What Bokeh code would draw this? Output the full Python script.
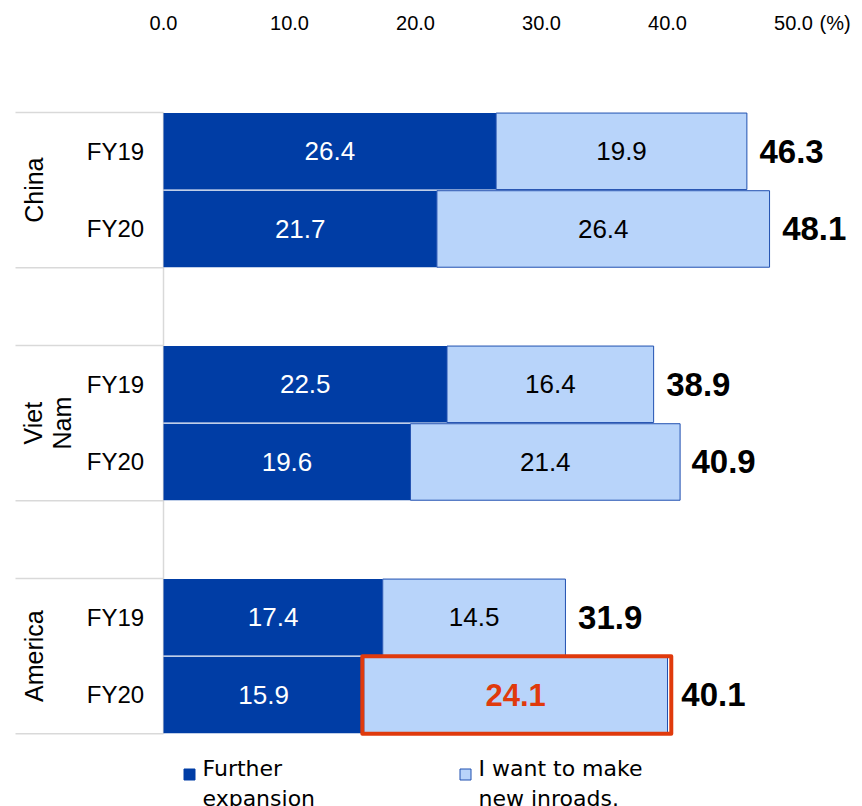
import numpy as np
from bokeh.plotting import figure
from bokeh.models import Range1d, ColumnDataSource
from bokeh.core.properties import value
from bokeh.embed import file_html
from bokeh.resources import INLINE

# ---- data ----
regions = ["China", "Viet\nNam", "America"]
years = ["FY19", "FY20"]
further = [26.4, 21.7, 22.5, 19.6, 17.4, 15.9]
new_inroads = [19.9, 26.4, 16.4, 21.4, 14.5, 24.1]
totals = [46.3, 48.1, 38.9, 40.9, 31.9, 40.1]
tick_values = [0, 10, 20, 30, 40, 50]
tick_labels = ["0.0", "10.0", "20.0", "30.0", "40.0", "50.0"]
legend_labels = ["Further\nexpansion", "I want to make\nnew inroads."]

DARK = "#003DA5"
LIGHT = "#B8D4FA"
RED = "#E03A0C"
GRID = "#D9D9D9"

W, H = 862, 806
X0, SX = 163.0, 12.6          # pixel of x=0, pixels per unit
Y0, SY = 150.8, 77.67         # pixel centre of first slot, pixels per slot

def dx(px):
    return (px - X0) / SX

def dy(py):
    return (py - Y0) / SY

p = figure(width=W, height=H, output_backend="svg", toolbar_location=None,
           x_range=Range1d(dx(0), dx(W)), y_range=Range1d(dy(H), dy(0)),
           min_border=0, outline_line_color=None)
p.axis.visible = False
p.grid.visible = False
p.background_fill_color = "white"

# slots: each region has 2 bars, then an empty slot
slots = []
for g in range(len(regions)):
    for k in range(len(years)):
        slots.append(3 * g + k)
further_a = np.array(further)
new_a = np.array(new_inroads)
n = len(slots)

src = ColumnDataSource(dict(
    y=slots, f=further, right=list(further_a + new_a),
    fmid=list(further_a / 2), nmid=list(further_a + new_a / 2),
    flab=[f"{v:.1f}" for v in further], nlab=[f"{v:.1f}" for v in new_inroads],
    tot=[t + 1.0 for t in totals], tlab=[f"{v:.1f}" for v in totals],
))

# separators and axis line
sep_y = []
for g in range(len(regions)):
    sep_y += [3 * g - 0.5, 3 * g + 1.5]
p.segment(x0=[dx(15)] * len(sep_y), x1=[0] * len(sep_y), y0=sep_y, y1=sep_y,
          line_color=GRID, line_width=1.5)
p.segment(x0=[0], x1=[0], y0=[-0.5], y1=[3 * len(regions) - 1.5],
          line_color=GRID, line_width=1.5)

# bars
p.hbar(y="y", left=0, right="f", height=0.985, source=src,
       fill_color=DARK, line_color=None)
p.hbar(y="y", left="f", right="right", height=0.985, source=src,
       fill_color=LIGHT, line_color="#2050B0", line_width=1)

font = value("Liberation Sans")
# value labels
p.text(x="fmid", y="y", text="flab", source=src, text_color="white",
       text_font=font, text_font_size="26px", text_align="center",
       text_baseline="middle")
normal_idx = list(range(n - 1))
p.text(x=[src.data["nmid"][j] for j in normal_idx], y=[slots[j] for j in normal_idx],
       text=[src.data["nlab"][j] for j in normal_idx], text_color="black",
       text_font=font, text_font_size="26px", text_align="center",
       text_baseline="middle")
# highlighted value
i = n - 1
p.text(x=[src.data["nmid"][i]], y=[slots[i]], text=[src.data["nlab"][i]],
       text_color=RED, text_font=font, text_font_size="31px",
       text_font_style="bold", text_align="center", text_baseline="middle")
# totals
p.text(x="tot", y="y", text="tlab", source=src, text_color="black",
       text_font=font, text_font_size="33px", text_font_style="bold",
       text_align="left", text_baseline="middle")

# highlight box
p.quad(left=[further[i] - 0.12], right=[further[i] + new_inroads[i] + 0.3],
       top=[slots[i] - 0.5], bottom=[slots[i] + 0.5],
       fill_color=None, line_color=RED, line_width=4, line_join="round")

# year labels
p.text(x=[dx(115)] * n, y=slots, text=years * len(regions),
       text_font=font, text_font_size="24px", text_color="black",
       text_align="center", text_baseline="middle")

# region labels
p.text(x=[dx(33), dx(47), dx(33)], y=[3 * g + 0.5 for g in range(len(regions))],
       text=regions, angle=np.pi / 2, text_font=font, text_font_size="25px",
       text_color="black", text_align="center", text_baseline="middle",
       text_line_height=1.05)

# top tick labels
p.text(x=tick_values, y=[dy(22)] * len(tick_values), text=tick_labels,
       text_font=font, text_font_size="20px", text_color="black",
       text_align="center", text_baseline="middle")
p.text(x=[dx(819)], y=[dy(22)], text=["(%)"], text_font=font,
       text_font_size="20px", text_color="black", text_align="left",
       text_baseline="middle")

# legend
p.scatter(x=[dx(189), dx(465)], y=[dy(774)] * 2, marker="square", size=11,
          fill_color=[DARK, LIGHT], line_color=[DARK, "#2050B0"], line_width=1)
p.text(x=[dx(202), dx(478)], y=[dy(755)] * 2, text=legend_labels,
       text_font=value("DejaVu Sans"), text_font_size="22px",
       text_color="black", text_align="left", text_baseline="top",
       text_line_height=1.22)

open("out.html", "w").write(file_html(p, INLINE))
